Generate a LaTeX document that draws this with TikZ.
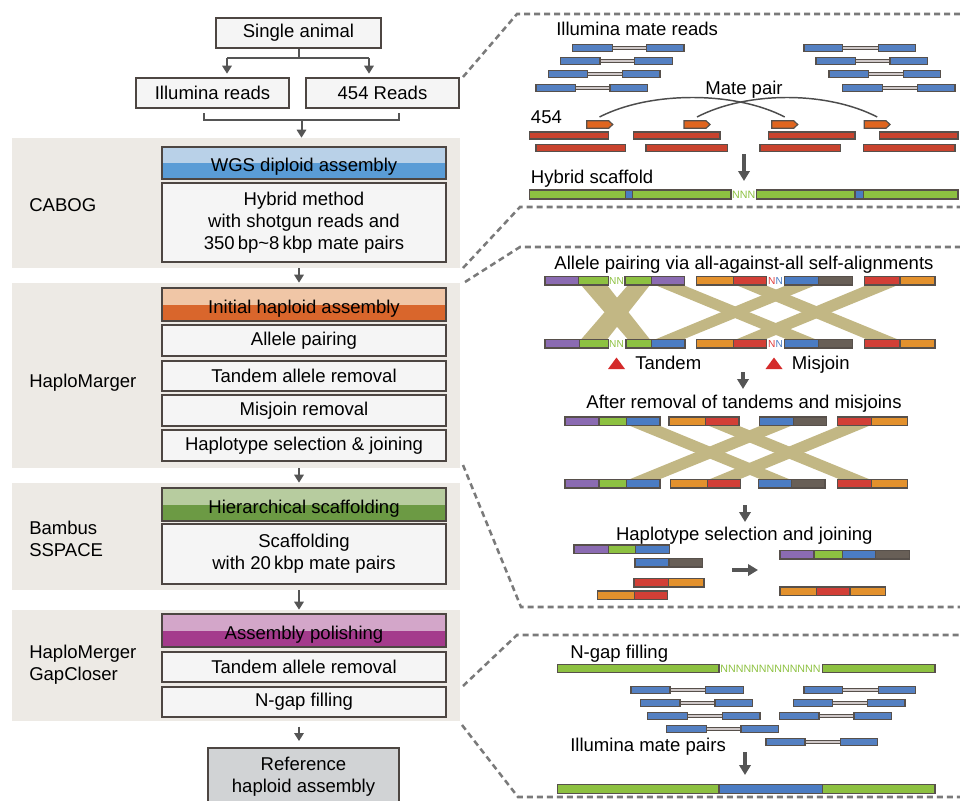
\documentclass[tikz,border=0pt]{standalone}
\usepackage{fontspec}
\setmainfont{Liberation Sans}
\usetikzlibrary{arrows.meta}
\definecolor{panelbg}{HTML}{EDEAE5}
\definecolor{boxfill}{HTML}{F5F5F5}
\definecolor{boxline}{HTML}{4D4642}
\definecolor{arrc}{HTML}{555555}
\definecolor{dashc}{HTML}{7A7A7A}
\definecolor{bluetop}{HTML}{B9D1E8}
\definecolor{bluebot}{HTML}{5A9CD6}
\definecolor{orgtop}{HTML}{F0C6A6}
\definecolor{orgbot}{HTML}{D9662C}
\definecolor{grntop}{HTML}{B7CC9F}
\definecolor{grnbot}{HTML}{6C9A44}
\definecolor{purtop}{HTML}{D3A6C9}
\definecolor{purbot}{HTML}{A43B8C}
\definecolor{refgray}{HTML}{D1D3D5}
\definecolor{rdblue}{HTML}{5480C2}
\definecolor{sgpurple}{HTML}{8B6BB2}
\definecolor{sggreen}{HTML}{8DC141}
\definecolor{sgorange}{HTML}{E3912D}
\definecolor{sgred}{HTML}{D23F36}
\definecolor{sgdark}{HTML}{685F57}
\definecolor{sgblue}{HTML}{4B7CC3}
\definecolor{tanband}{HTML}{C2B784}
\definecolor{bar454}{HTML}{C9432E}
\definecolor{arr454}{HTML}{E0651F}
\definecolor{trired}{HTML}{D42B2B}
\definecolor{nred}{HTML}{E03A3A}
\definecolor{segline}{HTML}{57504B}
\definecolor{linkfill}{HTML}{CFC8C8}
\newcommand\lblfont{\fontsize{13.9}{16.5}\selectfont}
\newcommand\myseg[5]{\path[seg,fill=#5] (#1,#3) rectangle (#2,#4);}
\newcommand\myread[3]{\path[seg,fill=rdblue] (#1,{#3-3.5}) rectangle (#2,{#3+3.5});}
\newcommand\mpair[5]{\path[draw=segline,line width=0.7pt,fill=linkfill] (#2,{#5-1.4}) rectangle (#3,{#5+1.4});\myread{#1}{#2}{#5}\myread{#3}{#4}{#5}}
\newcommand\band[6]{\fill[tanband] (#1,#5) -- (#2,#5) -- (#4,#6) -- (#3,#6) -- cycle;}
\newcommand\orarrow[2]{\path[seg,fill=arr454] (#1,120.7) -- ({#2-4},120.7) -- (#2,124.5) -- ({#2-4},128.3) -- (#1,128.3) -- cycle;}
\begin{document}
\begin{tikzpicture}[x=0.75pt,y=-0.75pt,
  panel/.style={fill=panelbg,draw=none,inner sep=0pt},
  box/.style={draw=boxline,line width=1.4pt,fill=boxfill,inner sep=0pt,font=\lblfont,align=center},
  hdr/.style 2 args={draw=boxline,line width=1.4pt,inner sep=0pt,font=\lblfont,align=center,
    text height=13.2pt,text depth=0pt,
    path picture={\fill[#1] (path picture bounding box.north west) rectangle (path picture bounding box.east);
                  \fill[#2] (path picture bounding box.west) rectangle (path picture bounding box.south east);}},
  lbl/.style={font=\lblfont,inner sep=0pt,align=left},
  txt/.style={font=\lblfont,inner sep=0pt},
  conn/.style={draw=arrc,line width=1.5pt},
  arr/.style={draw=arrc,line width=1.5pt,-{Triangle[width=7pt,length=6pt]}},
  bigarr/.style={draw=arrc,line width=2.5pt,-{Triangle[width=8.5pt,length=7.5pt]}},
  dashln/.style={draw=dashc,line width=1.9pt,dash pattern=on 4.5pt off 3pt},
  seg/.style={draw=segline,line width=0.9pt},
  nsmall/.style={font=\fontsize{8}{8}\selectfont,inner sep=0pt}
]
\useasboundingbox (0,0) rectangle (960,800);
\clip (0,0) rectangle (960,800);

% ---------- left column ----------
\node[panel,minimum width=336pt,minimum height=97.5pt] (bg1) at (236,203) {};
\node[panel,minimum width=336pt,minimum height=138.75pt] (bg2) at (236,375.5) {};
\node[panel,minimum width=336pt,minimum height=80.25pt] (bg3) at (236,536.5) {};
\node[panel,minimum width=336pt,minimum height=83.25pt] (bg4) at (236,665.5) {};

\node[box,minimum width=123.75pt,minimum height=22.5pt] (single) at (298.5,33) {Single animal};
\node[box,minimum width=114.75pt,minimum height=22.5pt] (illum) at (212.5,93) {Illumina reads};
\node[box,minimum width=114.75pt,minimum height=22.5pt] (r454) at (382.5,93) {454 Reads};

\node[hdr={bluetop}{bluebot},minimum width=213pt,minimum height=24pt] (wgs) at (304,163) {WGS diploid assembly};
\node[box,minimum width=213pt,minimum height=59.25pt] (hybrid) at (304,222.5) {Hybrid method\\with shotgun reads and\\350\,bp\char"7E 8\,kbp mate pairs};

\node[hdr={orgtop}{orgbot},minimum width=213pt,minimum height=24.75pt] (init) at (304,304.5) {Initial haploid assembly};
\node[box,minimum width=213pt,minimum height=23.25pt] (allele) at (304,340.5) {Allele pairing};
\node[box,minimum width=213pt,minimum height=22.5pt] (tandem) at (304,376) {Tandem allele removal};
\node[box,minimum width=213pt,minimum height=23.25pt] (misjoin) at (304,410.5) {Misjoin removal};
\node[box,minimum width=213pt,minimum height=23.25pt] (haplo) at (304,445.5) {Haplotype selection \& joining};

\node[hdr={grntop}{grnbot},minimum width=213pt,minimum height=24.75pt] (hier) at (304,504.5) {Hierarchical scaffolding};
\node[box,minimum width=213pt,minimum height=45pt] (scaf) at (304,554) {Scaffolding\\with 20\,kbp mate pairs};

\node[hdr={purtop}{purbot},minimum width=213pt,minimum height=24.75pt] (polish) at (304,630.5) {Assembly polishing};
\node[box,minimum width=213pt,minimum height=22.5pt] (tandemb) at (304,667) {Tandem allele removal};
\node[box,minimum width=213pt,minimum height=22.5pt] (ngap) at (304,702) {N-gap filling};

\node[box,fill=refgray,minimum width=143.25pt,minimum height=43.5pt] (ref) at (303.5,777) {Reference\\haploid assembly};

\node[lbl,anchor=west] (lcabog) at (29,205) {CABOG};
\node[lbl,anchor=west] (lhaplo) at (29,383) {HaploMarger};
\node[lbl,anchor=west] (lbambus) at (29,538.5) {Bambus\\SSPACE};
\node[lbl,anchor=west] (lgap) at (29,665) {HaploMerger\\GapCloser};

% connectors
\coordinate (jL) at (227,58);
\coordinate (jR) at (369,58);
\draw[conn] (single.south) -- (single.south |- jL);
\draw[conn] (jL) -- (jR);
\draw[arr,shorten >=2.5pt] (jL) -- (jL |- illum.north);
\draw[arr,shorten >=2.5pt] (jR) -- (jR |- r454.north);
\coordinate (bl) at (204,113);
\coordinate (br) at (399,113);
\coordinate (bm) at (301.5,120);
\draw[conn] (bl) -- (bl |- bm) -- (br |- bm) -- (br);
\draw[arr] (bm) -- (bm |- bg1.north);
\coordinate (ax) at (299,0);
\draw[arr] (bg1.south -| ax) -- (bg2.north -| ax);
\draw[arr] (bg2.south -| ax) -- (bg3.north -| ax);
\draw[arr] (bg3.south -| ax) -- (bg4.north -| ax);
\draw[arr,shorten <=4pt,shorten >=4.5pt] (bg4.south -| ax) -- (ref.north -| ax);

% ---------- dashed frames ----------
\draw[dashln] (463,77) -- (517,14) -- (965,14);
\draw[dashln] (463,268) -- (520,207) -- (965,207);
\draw[dashln] (465,282) -- (520,247) -- (965,247);
\draw[dashln] (463,465) -- (521,607) -- (965,607);
\draw[dashln] (463,686) -- (517,635) -- (965,635);
\draw[dashln] (462,725) -- (518,797) -- (965,797);

% ---------- panel 1 ----------
\node[txt,anchor=base west] (t1) at (556,35.5) {Illumina mate reads};
\mpair{572.3}{612.3}{646.7}{684}{48.3}
\mpair{560.7}{600}{634.7}{672.3}{61.3}
\mpair{548.3}{587.7}{622.7}{660}{74}
\mpair{536}{575.7}{610}{647.7}{88.3}
\mpair{804}{842.7}{878.3}{915.7}{48.3}
\mpair{816}{855.7}{890}{927.7}{61.3}
\mpair{829}{868.3}{903.3}{940.7}{74}
\mpair{842.7}{882.3}{917.3}{955}{88.3}
\node[txt,anchor=base] (tmp) at (744,94.5) {Mate pair};
\node[txt,anchor=base west] (t454) at (530.7,123) {454};
\coordinate (o1) at (599.5,117);
\coordinate (o2) at (697,117);
\coordinate (o3) at (784.7,117);
\coordinate (o4) at (877.2,117);
\draw[draw=arrc!90!black,line width=1.1pt] (o1) .. controls (650,91) and (735,91) .. (o3);
\draw[draw=arrc!90!black,line width=1.1pt] (o2) .. controls (747,91) and (827,91) .. (o4);
\orarrow{586.7}{612.7}
\orarrow{684}{710}
\orarrow{771.7}{797.7}
\orarrow{864.3}{890}
\myseg{529.3}{608.3}{132}{139}{bar454}
\myseg{633.3}{720}{132}{139}{bar454}
\myseg{768.3}{855}{132}{139}{bar454}
\myseg{879.3}{958}{132}{139}{bar454}
\myseg{536}{625.7}{144.5}{151.5}{bar454}
\myseg{646}{727.3}{144.5}{151.5}{bar454}
\myseg{760}{840.7}{144.5}{151.5}{bar454}
\myseg{863.3}{955}{144.5}{151.5}{bar454}
\coordinate (a1s) at (744,154);
\coordinate (a1e) at (744,181);
\draw[bigarr] (a1s) -- (a1e);
\node[txt,anchor=base west] (thyb) at (530.7,183.3) {Hybrid scaffold};
\myseg{529.3}{625.7}{190}{199}{sggreen}
\myseg{625.7}{632.7}{190}{199}{sgblue}
\myseg{632.7}{731}{190}{199}{sggreen}
\node[nsmall,text=sggreen] (nnn) at (743.7,194.5) {NNN};
\myseg{756.7}{855}{190}{199}{sggreen}
\myseg{855}{863.3}{190}{199}{sgblue}
\myseg{863.3}{958}{190}{199}{sggreen}

% ---------- panel 2 ----------
\node[txt,anchor=base] (tall) at (744,269.3) {Allele pairing via all-against-all self-alignments};
\band{581}{607}{628}{650}{285}{339.5}
\band{628}{650}{581}{607}{285}{339.5}
\band{655}{683}{787}{816}{285}{339.5}
\band{787}{816}{655}{683}{285}{339.5}
\band{736}{765}{867}{898}{285}{339.5}
\band{867}{898}{736}{765}{285}{339.5}
\foreach \a/\b/\c in {545/578.3/sgpurple,578.3/608.3/sggreen,625/651.7/sggreen,651.7/684.3/sgpurple,696.7/733.3/sgorange,733.3/766.7/sgred,784.3/818.3/sgblue,818.3/852.7/sgdark,864.3/900/sgred,900/935/sgorange}
  {\myseg{\a}{\b}{276.5}{285}{\c}}
\foreach \a/\b/\c in {545/579.3/sgpurple,579.3/608.3/sggreen,626/651.7/sggreen,651.7/685/sgblue,696.7/733.3/sgorange,733.3/766.7/sgred,784.3/818.3/sgblue,818.3/852.7/sgdark,864.3/900/sgred,900/935/sgorange}
  {\myseg{\a}{\b}{339.5}{348}{\c}}
\node[nsmall,font=\fontsize{7.6}{7.6}\selectfont,text=sggreen] (nn1) at (616.5,281) {NN};
\node[nsmall,font=\fontsize{7.6}{7.6}\selectfont,text=sggreen] (nn2) at (616.5,344) {NN};
\node[nsmall,font=\fontsize{7.6}{7.6}\selectfont] (nn3) at (775.5,281) {\textcolor{nred}{N}\textcolor{sgblue}{N}};
\node[nsmall,font=\fontsize{7.6}{7.6}\selectfont] (nn4) at (775.5,344) {\textcolor{nred}{N}\textcolor{sgblue}{N}};
\fill[trired] (608,369) -- (625,369) -- (616.5,357.5) -- cycle;
\node[txt,anchor=base west] (ttan) at (635,369.3) {Tandem};
\fill[trired] (765.5,369) -- (782.5,369) -- (774,357.5) -- cycle;
\node[txt,anchor=base west] (tmis) at (791.7,369.3) {Misjoin};
\coordinate (a2s) at (743,372);
\coordinate (a2e) at (743,389);
\draw[bigarr] (a2s) -- (a2e);
\node[txt,anchor=base] (tafter) at (744,408.3) {After removal of tandems and misjoins};
\band{629}{659}{761}{790}{425.5}{479.5}
\band{761}{792}{629}{659}{425.5}{479.5}
\band{708}{738}{840}{870}{425.5}{479.5}
\band{840}{870}{709}{739}{425.5}{479.5}
\foreach \a/\b/\c in {565/599/sgpurple,599/626.7/sggreen,626.7/660/sgblue,669/705.7/sgorange,705.7/739/sgred,759.3/793.3/sgblue,793.3/826.7/sgdark,837.3/871.7/sgred,871.7/907.7/sgorange}
  {\myseg{\a}{\b}{417}{425.5}{\c}}
\foreach \a/\b/\c in {565/599/sgpurple,599/626.7/sggreen,626.7/660/sgblue,670.7/707.3/sgorange,707.3/740.7/sgred,758.3/791.7/sgblue,791.7/825/sgdark,837.3/871.7/sgred,871.7/907.7/sgorange}
  {\myseg{\a}{\b}{479.5}{488}{\c}}
\coordinate (a3s) at (745,505);
\coordinate (a3e) at (745,522);
\draw[bigarr] (a3s) -- (a3e);
\node[txt,anchor=base] (thap) at (744.3,540) {Haplotype selection and joining};
\foreach \a/\b/\c in {574/608.3/sgpurple,608.3/635.7/sggreen,635.7/669.3/sgblue}
  {\myseg{\a}{\b}{545}{553.5}{\c}}
\foreach \a/\b/\c in {635/669/sgblue,669/702.7/sgdark}
  {\myseg{\a}{\b}{558.5}{567}{\c}}
\foreach \a/\b/\c in {634/668.3/sgred,668.3/704/sgorange}
  {\myseg{\a}{\b}{578.5}{587}{\c}}
\foreach \a/\b/\c in {597.3/634.3/sgorange,634.3/667.7/sgred}
  {\myseg{\a}{\b}{591}{599.5}{\c}}
\foreach \a/\b/\c in {780/814/sgpurple,814/842.3/sggreen,842.3/875.7/sgblue,875.7/909.3/sgdark}
  {\myseg{\a}{\b}{550.5}{559}{\c}}
\foreach \a/\b/\c in {780/816.7/sgorange,816.7/850/sgred,850/885.7/sgorange}
  {\myseg{\a}{\b}{587}{595.5}{\c}}
\coordinate (a4s) at (732,570);
\coordinate (a4e) at (758,570);
\draw[bigarr] (a4s) -- (a4e);

% ---------- panel 3 ----------
\node[txt,anchor=base west] (tng) at (570,658.3) {N-gap filling};
\myseg{557.7}{719}{664.5}{672.5}{sggreen}
\node[nsmall,text=sggreen] (nlong) at (770.5,668.5) {NNNNNNNNNNNNN};
\myseg{822.3}{935}{664.5}{672.5}{sggreen}
\mpair{631}{670}{705.7}{743.3}{690}
\mpair{640.7}{680}{715}{752.7}{702.7}
\mpair{647.7}{687.7}{722.3}{760}{716}
\mpair{666.7}{706.7}{741}{778.3}{728.7}
\mpair{804}{842.7}{878.3}{915.7}{690}
\mpair{793.3}{832.7}{867.3}{905}{702.7}
\mpair{779.3}{819}{854}{891.7}{716}
\mpair{766}{805}{840.7}{877.7}{741.7}
\node[txt,anchor=base west] (tmp2) at (570,751.7) {Illumina mate pairs};
\coordinate (a5s) at (745,752);
\coordinate (a5e) at (745,775);
\draw[bigarr] (a5s) -- (a5e);
\myseg{557.7}{719}{784.5}{793.5}{sggreen}
\myseg{719}{822.7}{784.5}{793.5}{sgblue}
\myseg{822.7}{935}{784.5}{793.5}{sggreen}
\end{tikzpicture}
\end{document}
